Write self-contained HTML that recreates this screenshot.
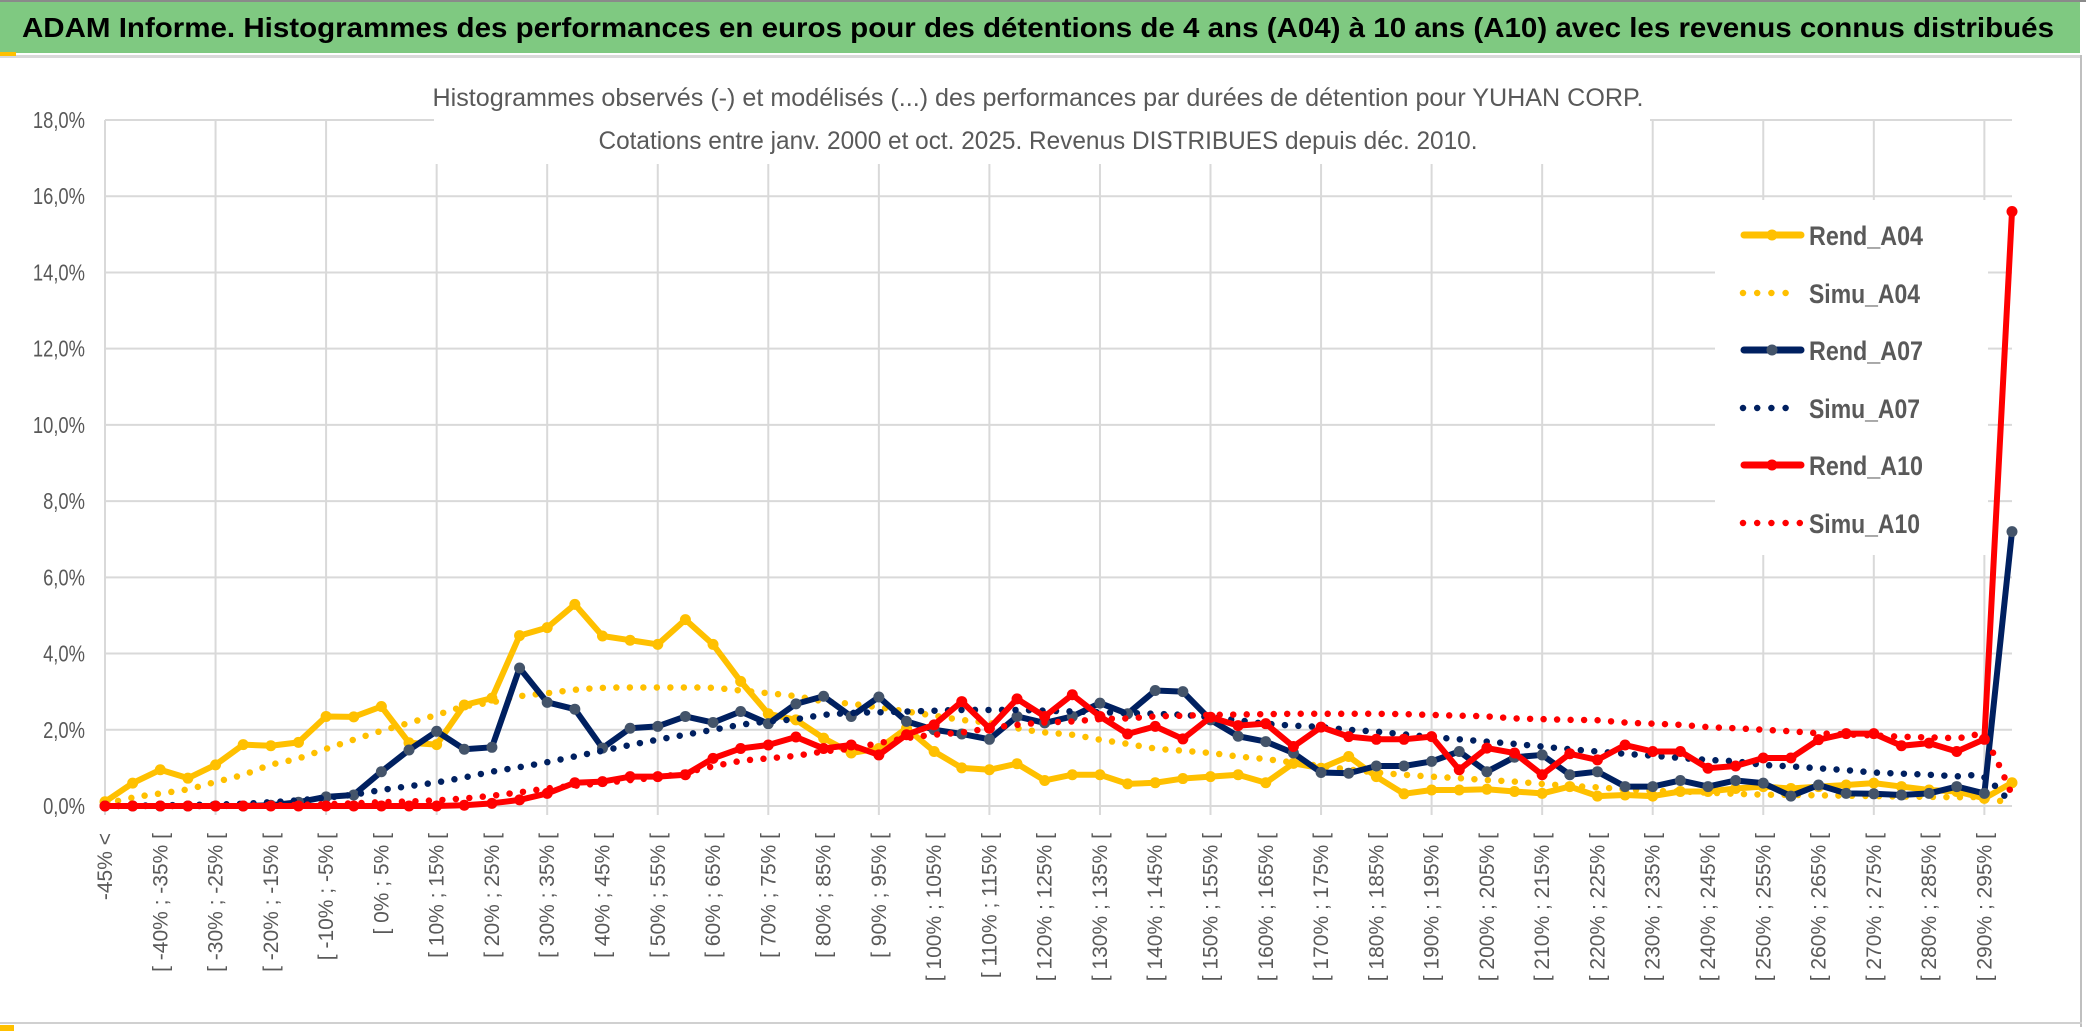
<!DOCTYPE html>
<html><head><meta charset="utf-8">
<style>
html,body{margin:0;padding:0;background:#fff;}
svg{display:block;font-family:"Liberation Sans",sans-serif;}
</style></head>
<body>
<svg id="chart" width="2086" height="1033" viewBox="0 0 2086 1033" xmlns="http://www.w3.org/2000/svg">
  <rect x="0" y="0" width="2086" height="1033" fill="#fff"/>
  <rect x="0" y="0" width="2086" height="2" fill="#8a8a8a"/>
  <rect x="0" y="2" width="2080" height="51" fill="#7fc981"/>
  <rect x="0" y="55" width="2080" height="3" fill="#d9d9d9"/>
  <rect x="0" y="52" width="16" height="4" fill="#ffc000"/>
  <text x="22" y="37" font-size="28" font-weight="bold" fill="#000" textLength="2032" lengthAdjust="spacingAndGlyphs">ADAM Informe. Histogrammes des performances en euros pour des détentions de 4 ans (A04) à 10 ans (A10) avec les revenus connus distribués</text>
  <rect x="2080" y="55" width="2" height="972" fill="#bfbfbf"/>
  <rect x="0" y="1022" width="2082" height="2" fill="#d0d0d0"/>
  <rect x="0" y="1025" width="14" height="6" fill="#ffc000"/>
  <g id="grid"></g>
  <g id="ylabels"></g>
  <g id="xlabels"></g>
  <rect x="434" y="66" width="1216" height="98" fill="#fff"/>
  <text x="1038" y="106" font-size="25" fill="#595959" text-anchor="middle" textLength="1211" lengthAdjust="spacingAndGlyphs">Histogrammes observés (-) et modélisés (...) des performances par durées de détention pour YUHAN CORP.</text>
  <text x="1038" y="149" font-size="25" fill="#595959" text-anchor="middle" textLength="879" lengthAdjust="spacingAndGlyphs">Cotations entre janv. 2000 et oct. 2025. Revenus DISTRIBUES depuis déc. 2010.</text>
  <rect x="1715" y="200" width="273" height="355" fill="#fff"/>
  <g id="series"></g>
  <g id="legend"></g>
</svg>
<script>
const categories = ["-45% <","[ -45% ; -40% [","[ -40% ; -35% [","[ -35% ; -30% [","[ -30% ; -25% [","[ -25% ; -20% [","[ -20% ; -15% [","[ -15% ; -10% [","[ -10% ; -5% [","[ -5% ; 0% [",
"[ 0% ; 5% [","[ 5% ; 10% [","[ 10% ; 15% [","[ 15% ; 20% [","[ 20% ; 25% [","[ 25% ; 30% [","[ 30% ; 35% [","[ 35% ; 40% [","[ 40% ; 45% [","[ 45% ; 50% [",
"[ 50% ; 55% [","[ 55% ; 60% [","[ 60% ; 65% [","[ 65% ; 70% [","[ 70% ; 75% [","[ 75% ; 80% [","[ 80% ; 85% [","[ 85% ; 90% [","[ 90% ; 95% [","[ 95% ; 100% [",
"[ 100% ; 105% [","[ 105% ; 110% [","[ 110% ; 115% [","[ 115% ; 120% [","[ 120% ; 125% [","[ 125% ; 130% [","[ 130% ; 135% [","[ 135% ; 140% [","[ 140% ; 145% [","[ 145% ; 150% [",
"[ 150% ; 155% [","[ 155% ; 160% [","[ 160% ; 165% [","[ 165% ; 170% [","[ 170% ; 175% [","[ 175% ; 180% [","[ 180% ; 185% [","[ 185% ; 190% [","[ 190% ; 195% [","[ 195% ; 200% [",
"[ 200% ; 205% [","[ 205% ; 210% [","[ 210% ; 215% [","[ 215% ; 220% [","[ 220% ; 225% [","[ 225% ; 230% [","[ 230% ; 235% [","[ 235% ; 240% [","[ 240% ; 245% [","[ 245% ; 250% [",
"[ 250% ; 255% [","[ 255% ; 260% [","[ 260% ; 265% [","[ 265% ; 270% [","[ 270% ; 275% [","[ 275% ; 280% [","[ 280% ; 285% [","[ 285% ; 290% [","[ 290% ; 295% [","[ 295% ; 300% ["];
const yTicks = [0,2,4,6,8,10,12,14,16,18];
const yTickLabels = ["0,0%","2,0%","4,0%","6,0%","8,0%","10,0%","12,0%","14,0%","16,0%","18,0%"];
const rendA04 = [0.11,0.60,0.95,0.73,1.08,1.61,1.58,1.67,2.35,2.34,2.61,1.66,1.61,2.65,2.83,4.47,4.68,5.29,4.46,4.35,4.24,4.89,4.24,3.27,2.42,2.26,1.78,1.39,1.51,2.04,1.43,1.00,0.95,1.11,0.67,0.82,0.82,0.58,0.61,0.72,0.77,0.82,0.61,1.12,0.99,1.30,0.77,0.32,0.42,0.42,0.44,0.38,0.33,0.51,0.26,0.29,0.26,0.38,0.38,0.46,0.51,0.46,0.51,0.55,0.60,0.51,0.42,0.38,0.20,0.61];
const simuA04 = [0.05,0.22,0.33,0.44,0.63,0.82,1.08,1.25,1.50,1.74,1.97,2.18,2.39,2.61,2.72,2.88,2.96,3.05,3.10,3.11,3.11,3.11,3.10,3.03,2.96,2.88,2.75,2.68,2.59,2.48,2.37,2.26,2.18,2.04,1.93,1.87,1.74,1.63,1.51,1.45,1.39,1.30,1.23,1.14,1.05,0.96,0.88,0.82,0.77,0.73,0.68,0.64,0.58,0.53,0.49,0.44,0.40,0.38,0.35,0.32,0.30,0.29,0.28,0.27,0.26,0.25,0.24,0.23,0.22,0.05];
const rendA07 = [0,0,0,0,0,0,0.02,0.10,0.24,0.29,0.90,1.47,1.96,1.49,1.54,3.62,2.72,2.54,1.52,2.04,2.09,2.35,2.19,2.48,2.16,2.68,2.88,2.35,2.86,2.22,2.00,1.89,1.75,2.35,2.18,2.35,2.70,2.42,3.03,3.00,2.26,1.83,1.69,1.39,0.88,0.86,1.05,1.05,1.17,1.43,0.90,1.28,1.34,0.82,0.90,0.51,0.51,0.67,0.51,0.67,0.60,0.26,0.55,0.33,0.32,0.29,0.33,0.51,0.33,7.20];
const simuA07 = [0,0.01,0.02,0.03,0.04,0.06,0.10,0.15,0.22,0.30,0.42,0.52,0.62,0.75,0.90,1.02,1.15,1.30,1.45,1.60,1.74,1.87,2.00,2.13,2.22,2.28,2.39,2.44,2.46,2.48,2.50,2.52,2.52,2.52,2.50,2.48,2.46,2.44,2.42,2.39,2.33,2.25,2.16,2.11,2.07,2.00,1.95,1.88,1.81,1.75,1.69,1.63,1.56,1.49,1.43,1.37,1.32,1.26,1.21,1.17,1.08,1.04,0.99,0.94,0.88,0.85,0.82,0.78,0.75,0.05];
const rendA10 = [0,0,0,0,0,0,0,0,0,0,0,0,0,0.02,0.07,0.16,0.33,0.61,0.64,0.77,0.77,0.82,1.25,1.51,1.60,1.81,1.51,1.60,1.34,1.87,2.13,2.74,2.04,2.81,2.35,2.92,2.35,1.89,2.09,1.76,2.33,2.11,2.16,1.56,2.07,1.82,1.75,1.75,1.82,0.95,1.52,1.39,0.82,1.37,1.21,1.60,1.43,1.43,0.99,1.05,1.26,1.26,1.74,1.90,1.90,1.58,1.65,1.43,1.75,15.6];
const simuA10 = [0,0,0,0,0,0.01,0.02,0.03,0.05,0.07,0.10,0.12,0.15,0.20,0.27,0.36,0.46,0.53,0.60,0.68,0.75,0.88,1.04,1.18,1.25,1.32,1.43,1.51,1.65,1.78,1.87,1.93,2.04,2.13,2.19,2.22,2.28,2.30,2.35,2.37,2.39,2.40,2.41,2.42,2.42,2.42,2.42,2.41,2.39,2.37,2.35,2.30,2.28,2.26,2.25,2.19,2.16,2.13,2.07,2.04,2.00,1.96,1.91,1.88,1.85,1.82,1.80,1.78,1.75,0.30];

const NS = "http://www.w3.org/2000/svg";
const X0 = 105, X1 = 2012, Y0 = 806, Y18 = 120;
function xPos(i){ return X0 + (X1 - X0) * i / (categories.length - 1); }
function yPos(v){ return Y0 - (Y0 - Y18) * v / 18; }
function mk(tag, attrs, parent){ const e = document.createElementNS(NS, tag); for (const k in attrs) e.setAttribute(k, attrs[k]); parent.appendChild(e); return e; }

const grid = document.getElementById('grid');
yTicks.forEach((t, k) => {
  const l = mk('line', {x1: X0, x2: X1, y1: yPos(t), y2: yPos(t), stroke: '#d9d9d9', 'stroke-width': 2}, grid);
  
  
});
for (let i = 0; i < categories.length; i += 4) {
  const l = mk('line', {x1: xPos(i), x2: xPos(i), y1: Y18, y2: Y0 + 9, stroke: '#d9d9d9', 'stroke-width': 2}, grid);
  
  
}
const yl = document.getElementById('ylabels');
yTicks.forEach((t, k) => {
  const tx = mk('text', {transform: `translate(85,${yPos(t) + 8}) scale(0.8,1)`, 'font-size': 23, fill: '#595959', 'text-anchor': 'end'}, yl);
  tx.textContent = yTickLabels[k];
  
  
});
const xl = document.getElementById('xlabels');
categories.forEach((c, i) => {
  if (i % 2) return;
  const tx = mk('text', {transform: `translate(${xPos(i) + 7},833) rotate(-90)`, 'font-size': 21, fill: '#595959', 'text-anchor': 'end'}, xl);
  tx.textContent = c;
  
  
});

function smoothPath(vals){
  const p = vals.map((v, i) => [xPos(i), yPos(v)]);
  let d = `M${p[0][0]},${p[0][1]}`;
  for (let i = 0; i < p.length - 1; i++) {
    const a = p[i - 1] || p[i], b = p[i], c = p[i + 1], e = p[i + 2] || c;
    const c1 = [b[0] + (c[0] - a[0]) / 6, b[1] + (c[1] - a[1]) / 6];
    const c2 = [c[0] - (e[0] - b[0]) / 6, c[1] - (e[1] - b[1]) / 6];
    d += ` C${c1[0]},${c1[1]} ${c2[0]},${c2[1]} ${c[0]},${c[1]}`;
  }
  return d;
}
const sg = document.getElementById('series');
function drawRend(vals, color, mcolor, name){
  const g = mk('g', {}, sg);
  
  
  const pts = vals.map((v, i) => xPos(i) + ',' + yPos(v)).join(' ');
  const pl = mk('polyline', {points: pts, fill: 'none', stroke: color, 'stroke-width': 6, 'stroke-linejoin': 'round', 'stroke-linecap': 'round'}, g);
  
  
  vals.forEach((v, i) => {
    const c = mk('circle', {cx: xPos(i), cy: yPos(v), r: 5.5, fill: mcolor}, g);
    
    
  });
}
function drawSimu(vals, color, name){
  const p = mk('path', {d: smoothPath(vals), fill: 'none', stroke: color, 'stroke-width': 6.5, 'stroke-linecap': 'round', 'stroke-dasharray': '0 13.5'}, sg);
  
  
}
drawRend(rendA04, '#ffc000', '#ffc000', 'rend-a04');
drawSimu(simuA04, '#ffc000', 'simu-a04');
drawRend(rendA07, '#002060', '#44546a', 'rend-a07');
drawSimu(simuA07, '#002060', 'simu-a07');
drawRend(rendA10, '#ff0000', '#ff0000', 'rend-a10');
drawSimu(simuA10, '#ff0000', 'simu-a10');

const legendNames = ["Rend_A04","Simu_A04","Rend_A07","Simu_A07","Rend_A10","Simu_A10"];
const legendColors = ['#ffc000','#ffc000','#002060','#002060','#ff0000','#ff0000'];
const legendMarkers = ['#ffc000',null,'#44546a',null,'#ff0000',null];
const legendY = [235,293,350,408,465,523];
const lg = document.getElementById('legend');
legendNames.forEach((n, k) => {
  const g = mk('g', {}, lg);
  
  
  const y = legendY[k];
  if (legendMarkers[k]) {
    mk('line', {x1: 1744, x2: 1801, y1: y, y2: y, stroke: legendColors[k], 'stroke-width': 7, 'stroke-linecap': 'round'}, g);
    mk('circle', {cx: 1772, cy: y, r: 5.5, fill: legendMarkers[k]}, g);
  } else {
    mk('line', {x1: 1743, x2: k === 5 ? 1800 : 1788, y1: y, y2: y, stroke: legendColors[k], 'stroke-width': 6.5, 'stroke-linecap': 'round', 'stroke-dasharray': '0 14.2'}, g);
  }
  const tx = mk('text', {x: 1809, y: y + 10, 'font-size': 27, 'font-weight': 'bold', fill: '#595959', textLength: n.startsWith('Rend') ? 114 : 111, lengthAdjust: 'spacingAndGlyphs'}, g);
  tx.textContent = n;
});
</script>
</body></html>
